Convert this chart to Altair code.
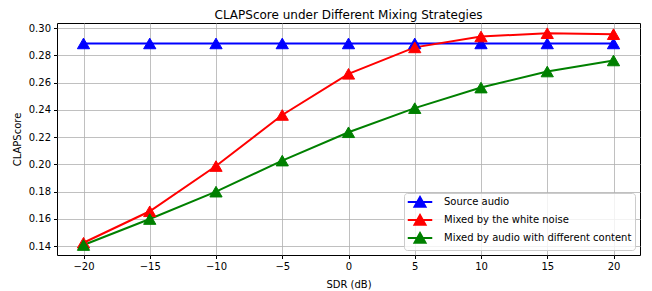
import altair as alt
import pandas as pd

sdr = [-20, -15, -10, -5, 0, 5, 10, 15, 20]
source_audio = [0.2887, 0.2887, 0.2887, 0.2887, 0.2887, 0.2887, 0.2887, 0.2887, 0.2887]
white_noise = [0.1424, 0.1655, 0.1987, 0.2362, 0.2664, 0.2858, 0.2938, 0.2962, 0.2955]
diff_content = [0.1407, 0.1598, 0.1799, 0.2027, 0.2235, 0.2412, 0.2563, 0.2681, 0.2762]
series_names = ["Source audio", "Mixed by the white noise", "Mixed by audio with different content"]
series_colors = ["#0000ff", "#ff0000", "#008000"]
y_ticks = [0.14, 0.16, 0.18, 0.20, 0.22, 0.24, 0.26, 0.28, 0.30]
x_ticks = [-20, -15, -10, -5, 0, 5, 10, 15, 20]

rows = []
for name, vals in zip(series_names, [source_audio, white_noise, diff_content]):
    for x, v in zip(sdr, vals):
        rows.append({"SDR": x, "score": v, "series": name})
df = pd.DataFrame(rows)

FONT = "DejaVu Sans"
legend_path = "M-2.45,0H2.45M-1.1,0.95L0,-1L1.1,0.95Z"

leg = alt.Legend(
    title=None,
    orient="bottom-right",
    offset=5,
    symbolType=legend_path,
    symbolSize=100,
    symbolStrokeWidth=2,
    symbolOpacity=1,
    symbolOffset=7,
    labelFont=FONT,
    labelFontSize=10,
    labelColor="black",
    labelLimit=400,
    labelOffset=18,
    strokeColor="#cccccc",
    fillColor="rgba(255,255,255,0.8)",
    cornerRadius=3,
    padding=3,
    rowPadding=0,
)
sc = alt.Scale(domain=series_names, range=series_colors)

x = alt.X(
    "SDR:Q",
    scale=alt.Scale(domain=[-22, 22], nice=False, zero=False),
    axis=alt.Axis(values=x_ticks, title="SDR (dB)", format="d"),
)
y = alt.Y(
    "score:Q",
    scale=alt.Scale(domain=[0.1334, 0.3037], nice=False, zero=False),
    axis=alt.Axis(values=y_ticks, title="CLAPScore", format=".2f"),
)

base = alt.Chart(df).encode(x=x, y=y, order="SDR:Q", detail="series:N")
lines = base.mark_line(strokeWidth=2, clip=True).encode(
    stroke=alt.Stroke("series:N", scale=sc, sort=series_names, legend=leg)
)
points = base.mark_point(shape="triangle-up", size=150, opacity=1, strokeWidth=1, clip=True).encode(
    fill=alt.Fill("series:N", scale=sc, sort=series_names, legend=leg),
    stroke=alt.Stroke("series:N", scale=sc, sort=series_names, legend=leg),
)

chart = (
    alt.layer(lines, points)
    .properties(
        width=583,
        height=232,
        title=alt.Title("CLAPScore under Different Mixing Strategies", font=FONT, fontSize=12,
                        fontWeight="normal", color="black", offset=1),
        autosize=alt.AutoSizeParams(type="none"),
        padding={"left": 49, "top": 15, "right": 4, "bottom": 36},
    )
    .configure_view(stroke="black", strokeWidth=1)
    .configure_axis(
        labelFont=FONT, labelFontSize=10, labelColor="black",
        titleFont=FONT, titleFontSize=10, titleColor="black", titleFontWeight="normal",
        grid=True, gridColor="#b0b0b0", gridWidth=0.8,
        tickColor="black", tickSize=3.5, domain=False, labelPadding=3,
    )
    .configure_axisX(titlePadding=8)
    .configure_axisY(titlePadding=6)
)

chart.save("out.html", embed_options={"renderer": "svg", "actions": False})
